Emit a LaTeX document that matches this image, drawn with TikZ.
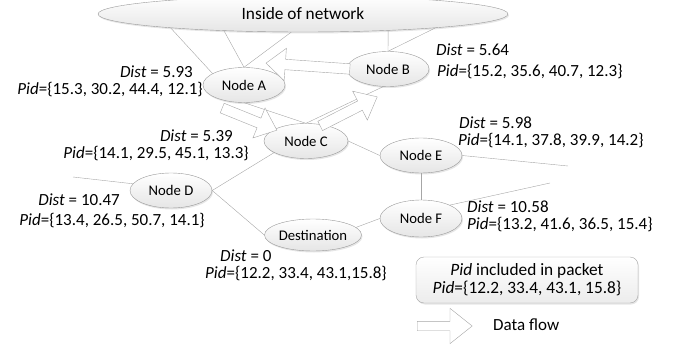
\documentclass[tikz,border=0pt]{standalone}
\usepackage{fontspec}
\setmainfont{Carlito}
\usetikzlibrary{shapes.geometric,shapes.arrows,shadows}

\begin{document}
\begin{tikzpicture}[x=1pt,y=-1pt,
    netnode/.style={ellipse,draw=gray!80,top color=white,bottom color=gray!20,
      drop shadow={opacity=0.2,shadow xshift=1pt,shadow yshift=-1.5pt},
      minimum width=82pt,minimum height=35pt,inner sep=0pt,
      font=\fontsize{14.7}{15}\selectfont},
    link/.style={draw=gray!70,line width=0.4pt},
    lbl/.style={inner sep=0pt,text height=10.5pt,text depth=1.5pt,
      font=\fontsize{17}{18}\selectfont},
    flow/.style={single arrow,draw=gray!70,fill=white,anchor=tail,
      inner xsep=0pt,inner ysep=5pt,single arrow head extend=11pt,
      single arrow tip angle=80},
  ]
  \useasboundingbox (0,0) rectangle (675,345);

  \node[netnode,minimum width=410pt,minimum height=36pt,
    font=\fontsize{17.3}{18}\selectfont] (net) at (303,14) {Inside of network};
  \node[netnode] (nodeA) at (244,85) {Node A};
  \node[netnode] (nodeB) at (388,69) {Node B};
  \node[netnode,minimum width=84pt] (nodeC) at (306,141) {Node C};
  \node[netnode] (nodeE) at (421,155.5) {Node E};
  \node[netnode] (nodeD) at (171,190.5) {Node D};
  \node[netnode,minimum width=97pt,minimum height=32pt] (dest) at (313,235) {Destination};
  \node[netnode,minimum height=37pt] (nodeF) at (421,218.5) {Node F};

  \coordinate (dfree) at (73,177);
  \coordinate (efree) at (568,166);
  \coordinate (ffree) at (550,183);

  \draw[link] (net.186) -- (nodeA.160);
  \draw[link] (net.192) -- (nodeA.north);
  \draw[link] (net.237) -- (nodeA.north);
  \draw[link] (net.349) -- (nodeB.north);
  \draw[link] (net.354) -- (nodeB.north);
  \draw[link] (nodeA.south) -- (nodeC.north);
  \draw[link] (nodeC.north) -- (nodeB.255);
  \draw[link] (nodeC.east) -- (nodeE.west);
  \draw[link] (nodeC.200) -- (nodeD.east);
  \draw[link] (nodeD.170) -- (dfree);
  \draw[link] (nodeD.east) -- (dest.west);
  \draw[link] (dest.10) -- (nodeF.west);
  \draw[link] (nodeE.south) -- (nodeF.north);
  \draw[link] (nodeE.east) -- (efree);
  \draw[link] (nodeF.25) -- (ffree);

  % data flow
  \node[flow,minimum height=84pt,rotate=176] (flowBA) at (350,69) {};
  \node[flow,minimum height=59pt,rotate=-22] (flowAC) at (222,108) {};
  \node[flow,minimum height=64pt,rotate=27] (flowCB) at (320,126) {};

  \node[lbl,anchor=base east] (distA) at (193,77.5) {\textit{Dist} = 5.93};
  \node[lbl,anchor=base east] (pidA) at (203,94.5) {\textit{Pid}=\{15.3, 30.2, 44.4, 12.1\}};
  \node[lbl,anchor=base west] (distB) at (436,56) {\textit{Dist} = 5.64};
  \node[lbl,anchor=base west] (pidB) at (437,77) {\textit{Pid}=\{15.2, 35.6, 40.7, 12.3\}};
  \node[lbl,anchor=base east] (distC) at (233,141.5) {\textit{Dist} = 5.39};
  \node[lbl,anchor=base east] (pidC) at (249,158.5) {\textit{Pid}=\{14.1, 29.5, 45.1, 13.3\}};
  \node[lbl,anchor=base west] (distE) at (459,128.5) {\textit{Dist} = 5.98};
  \node[lbl,anchor=base west] (pidE) at (458,145.5) {\textit{Pid}=\{14.1, 37.8, 39.9, 14.2\}};
  \node[lbl,anchor=base east] (distD) at (120,205) {\textit{Dist} = 10.47};
  \node[lbl,anchor=base east] (pidD) at (205,225) {\textit{Pid}=\{13.4, 26.5, 50.7, 14.1\}};
  \node[lbl,anchor=base west] (distDst) at (220,261) {\textit{Dist} = 0};
  \node[lbl,anchor=base west] (pidDst) at (205,278) {\textit{Pid}=\{12.2, 33.4, 43.1,15.8\}};
  \node[lbl,anchor=base west] (distF) at (467,212) {\textit{Dist} = 10.58};
  \node[lbl,anchor=base west] (pidF) at (467,229) {\textit{Pid}=\{13.2, 41.6, 36.5, 15.4\}};

  % legend
  \node[draw=gray!70,rounded corners=8pt,top color=white,bottom color=gray!15,
    drop shadow={opacity=0.2,shadow xshift=1pt,shadow yshift=-1.5pt},
    font=\fontsize{17.3}{18}\selectfont,inner sep=0pt,
    minimum width=222pt,minimum height=46pt,align=center] (key) at (527,280)
    {\textit{Pid} included in packet\\\textit{Pid}=\{12.2, 33.4, 43.1, 15.8\}};
  \node[flow,minimum height=55pt,inner ysep=4.5pt,single arrow head extend=13pt,
    single arrow tip angle=77] (flowkey) at (417,326) {};
  \node[lbl,anchor=west] (keytext) at (493,326) {Data flow};
\end{tikzpicture}
\end{document}
